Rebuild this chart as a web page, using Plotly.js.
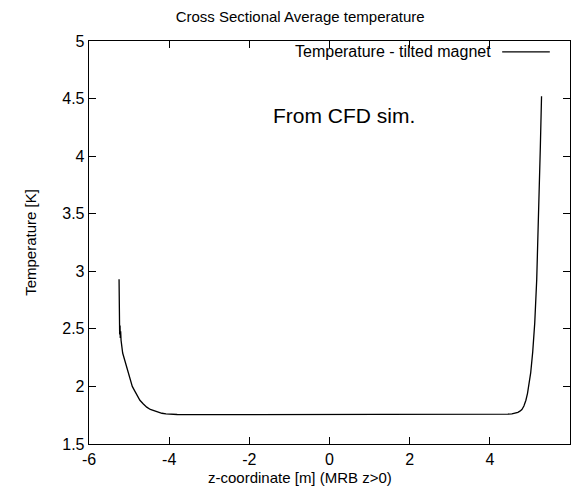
<!DOCTYPE html>
<html>
<head>
<meta charset="utf-8">
<script src="https://cdn.plot.ly/plotly-3.0.1.min.js"></script>
<style>html,body{margin:0;padding:0;background:#fff;}#chart{width:573px;height:493px;}</style>
</head>
<body>
<div id="chart"></div>
<script>
// z-coordinate [m] and cross-sectional average temperature [K]
const zCoord = [-5.25, -5.25, -5.235, -5.225, -5.22, -5.21, -5.2, -5.19, -5.16, -5.11, -5.06, -4.98, -4.92, -4.85, -4.79, -4.73, -4.65, -4.56, -4.47, -4.39, -4.28, -4.18, -4.08, -3.98, -3.8, -3.0, -2.0, -1.0, 0.0, 1.0, 2.0, 3.0, 4.0, 4.3, 4.45, 4.55, 4.63, 4.7, 4.75, 4.8, 4.85, 4.9, 4.94, 4.98, 5.02, 5.07, 5.12, 5.17, 5.22, 5.26, 5.29];
const tempK  = [2.93, 2.55, 2.45, 2.53, 2.42, 2.48, 2.40, 2.36, 2.29, 2.23, 2.17, 2.06, 2.0, 1.955, 1.915, 1.88, 1.85, 1.82, 1.80, 1.79, 1.777, 1.767, 1.761, 1.758, 1.756, 1.755, 1.755, 1.755, 1.755, 1.755, 1.755, 1.755, 1.756, 1.757, 1.759, 1.762, 1.767, 1.775, 1.785, 1.80, 1.83, 1.88, 1.94, 2.02, 2.12, 2.3, 2.55, 2.93, 3.5, 4.08, 4.52];
const seriesName = "Temperature - tilted magnet";
const xTitle = "z-coordinate [m] (MRB z>0)";
const yTitle = "Temperature [K]";
const xTicks = [-6, -4, -2, 0, 2, 4, 6];
const yTicks = [1.5, 2, 2.5, 3, 3.5, 4, 4.5, 5];

const font = "Liberation Sans, Arial, Helvetica, sans-serif";

const trace = {
  x: zCoord, y: tempK, type: "scatter", mode: "lines",
  name: seriesName, showlegend: false,
  line: {color: "#000", width: 1.3}
};

const layout = {
  width: 573, height: 493,
  margin: {l: 89, r: 3, t: 41, b: 49},
  paper_bgcolor: "#fff", plot_bgcolor: "#fff",
  font: {family: font, color: "#000", size: 16},
  title: {text: "Cross Sectional Average temperature", font: {size: 15, family: font, color: "#000"},
          x: 0.439, xref: "paper", xanchor: "center", y: 0.967, yref: "container", yanchor: "middle"},
  xaxis: {
    range: [-6, 6], tickvals: xTicks, ticktext: xTicks.map(String),
    ticks: "inside", ticklen: 7, tickcolor: "#000", showgrid: false, zeroline: false,
    showline: true, linecolor: "#000", linewidth: 1.3, mirror: "ticks",
    tickfont: {size: 16, family: font}
  },
  yaxis: {
    range: [1.5, 5], tickvals: yTicks, ticktext: yTicks.map(String),
    ticks: "inside", ticklen: 7, tickcolor: "#000", showgrid: false, zeroline: false,
    showline: true, linecolor: "#000", linewidth: 1.3, mirror: "ticks",
    tickfont: {size: 16, family: font},
    title: {text: yTitle, font: {size: 15, family: font}, standoff: 22}
  },
  annotations: [
    {text: xTitle, xref: "paper", yref: "paper", x: 0.439, y: -0.082, xanchor: "center", yanchor: "middle",
     showarrow: false, font: {size: 15, family: font}},
    {text: seriesName, xref: "paper", yref: "paper", x: 0.84, y: 0.973, xanchor: "right", yanchor: "middle",
     showarrow: false, font: {size: 16, family: font}},
    {text: "From CFD sim.", xref: "paper", yref: "paper", x: 0.53, y: 0.815, xanchor: "center", yanchor: "middle",
     showarrow: false, font: {size: 21, family: font}}
  ],
  shapes: [
    {type: "line", xref: "paper", yref: "paper", x0: 0.859, x1: 0.958, y0: 0.973, y1: 0.973,
     line: {color: "#000", width: 1.3}}
  ]
};

Plotly.newPlot("chart", [trace], layout, {displayModeBar: false, staticPlot: true});
</script>
</body>
</html>
